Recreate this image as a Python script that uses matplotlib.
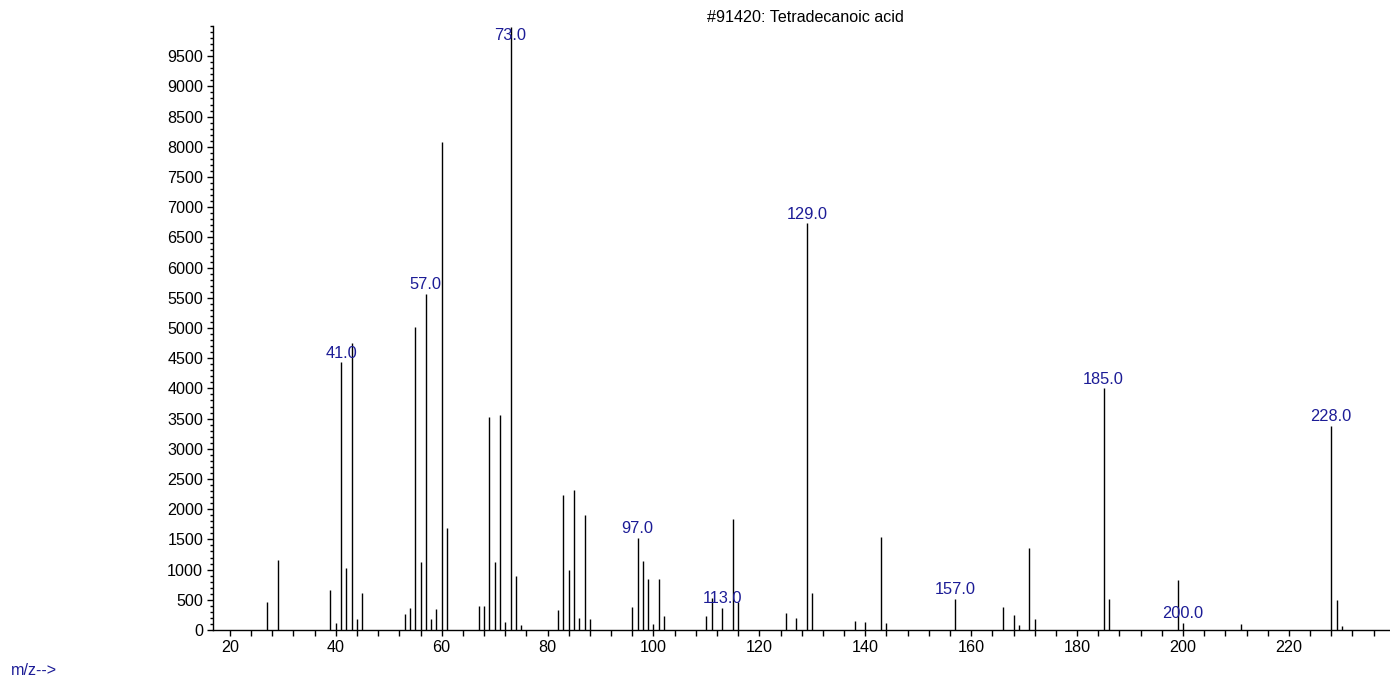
import numpy as np
import matplotlib
matplotlib.use("Agg")
import matplotlib.pyplot as plt
from matplotlib.ticker import MultipleLocator

plt.rcParams['font.family'] = ['Liberation Sans', 'DejaVu Sans']

# ---------------- spectrum data ----------------
mz = [27, 29, 39, 40, 41, 42, 43, 44, 45,
      53, 54, 55, 56, 57, 58, 59, 60, 61,
      67, 68, 69, 70, 71, 72, 73, 74, 75,
      82, 83, 84, 85, 86, 87, 88,
      96, 97, 98, 99, 100, 101, 102,
      110, 111, 113, 115, 116,
      125, 127, 129, 130,
      138, 140, 143, 144,
      157, 166, 168, 169, 171, 172,
      185, 186, 199, 200, 211, 228, 229, 230]
abundance = [460, 1160, 660, 120, 4430, 1030, 4750, 180, 610,
             265, 370, 5010, 1130, 5560, 180, 350, 8080, 1690,
             400, 390, 3520, 1130, 3560, 140, 9990, 900, 90,
             330, 2230, 1000, 2320, 200, 1910, 190,
             380, 1530, 1150, 840, 100, 850, 240,
             240, 530, 365, 1830, 470,
             275, 200, 6730, 620,
             150, 130, 1540, 115,
             520, 380, 250, 90, 1360, 190,
             4000, 510, 820, 115, 95, 3375, 500, 65]

labelled = [41, 57, 73, 97, 113, 129, 157, 185, 200, 228]

title = "#91420: Tetradecanoic acid"

# ---------------- figure ----------------
fig = plt.figure(figsize=(13.9, 6.8), dpi=100)
ax = fig.add_axes([0.1532, 0.0735, 0.8468, 0.8883])

ax.vlines(mz, 0, abundance, colors='black', linewidth=1.0)

for m in labelled:
    val = abundance[mz.index(m)]
    ypos = min(val + 30, 9720)
    ax.text(m, ypos, "%.1f" % m, ha='center', va='bottom',
            color='#1c1c96', fontsize=11.8)

ax.set_xlim(16.8, 239.1)
ax.set_ylim(0, 10000)

ax.xaxis.set_major_locator(MultipleLocator(20))
ax.xaxis.set_minor_locator(MultipleLocator(4))
ax.yaxis.set_major_locator(MultipleLocator(500))
ax.yaxis.set_minor_locator(MultipleLocator(100))

ax.tick_params(axis='x', which='both', length=4.5, width=1, labelsize=11.6, pad=2.5)
ax.tick_params(axis='y', which='major', length=4, width=1, labelsize=11.6, pad=3)
ax.tick_params(axis='y', which='minor', length=2, width=1)

yt = np.arange(0, 10000, 500)
ax.set_yticks(yt)
ax.set_yticklabels([str(v) for v in yt])

for s in ['top', 'right']:
    ax.spines[s].set_visible(False)
ax.spines['left'].set_linewidth(1)
ax.spines['bottom'].set_linewidth(1)

fig.text(0.5795, 0.975, title, ha='center', va='center', fontsize=11.6, color='black')
fig.text(0.008, 0.0147, "m/z-->", ha='left', va='center', fontsize=11.6, color='#1c1c96')

fig.savefig("out.png", dpi=100)
